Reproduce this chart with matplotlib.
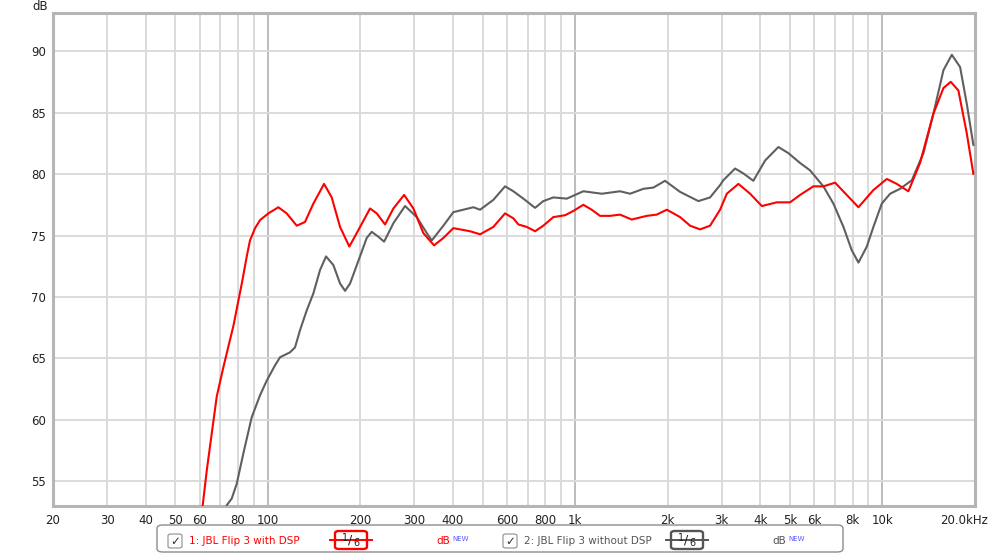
import matplotlib
matplotlib.use('Agg')

import matplotlib.pyplot as plt
from matplotlib.patches import FancyBboxPatch
from matplotlib.transforms import ScaledTranslation
import numpy as np

# frequency response readings (Hz, dB)
red_freq = [58, 61.4, 63.3, 65.7, 68.2, 71.7, 75.3, 77.2, 80.2, 82.3, 85.4, 87.5, 90.9, 94.3, 100.4,
            108.2, 115.2, 124.2, 132.1, 140.7, 152.4, 161.4, 171.8, 184.2, 194.7, 215.1, 226.2,
            240.7, 256.2, 277.6, 297.6, 320.6, 347.4, 372.6, 401.4, 455, 490.6, 541.8, 591.4,
            629.4, 653.6, 695.8, 740.6, 787.8, 849.4, 927.4, 986.6, 1063, 1132, 1205, 1299, 1400,
            1528, 1710, 1842, 1987, 2195, 2366, 2550, 2748, 2962, 3115, 3398, 3709, 4050, 4530,
            5004, 5394, 5958, 6422, 7010, 7650, 8352, 9342, 10330, 11130, 12140, 13250, 14640,
            15790, 16680, 17660, 18810, 19760]
red_db = [48.0, 53.06, 55.9, 58.9, 61.9, 64.3, 66.5, 67.6, 69.7, 71.1, 73.3, 74.6, 75.6, 76.25, 76.8,
          77.3, 76.8, 75.8, 76.1, 77.6, 79.2, 78.1, 75.7, 74.1, 75.2, 77.2, 76.8,
          75.9, 77.2, 78.3, 77.2, 75.2, 74.2, 74.8, 75.6, 75.35, 75.1, 75.7, 76.8,
          76.4, 75.9, 75.7, 75.35, 75.8, 76.5, 76.65, 77.0, 77.5, 77.1, 76.6, 76.6, 76.7,
          76.3, 76.6, 76.7, 77.1, 76.5, 75.8, 75.5, 75.8, 77.1, 78.4, 79.2, 78.4, 77.4, 77.7,
          77.7, 78.3, 79.0, 79.0, 79.3, 78.3, 77.3, 78.7, 79.6, 79.2, 78.6, 80.9, 84.9,
          87.0, 87.5, 86.8, 83.3, 80.0]

gray_freq = [70, 73.5, 76.3, 79.2, 83.3, 88.6, 94.3, 99.2, 105.6, 109.6, 118.1, 122.6, 127.3, 133.8,
             140.7, 147.9, 154.7, 163.4, 171.8, 178.4, 185.2, 199.5, 209.8, 217.8, 229.0, 239.0,
             256.2, 279.6, 305.2, 329.0, 341.6, 372.6, 401.4, 432.6, 466.4, 490.6, 541.8, 591.4,
             629.4, 678.4, 740.6, 787.8, 849.4, 939.4, 1063, 1221, 1400, 1509, 1668, 1797, 1961,
             2195, 2518, 2748, 2962, 3036, 3314, 3527, 3800, 4150, 4585, 4942, 5394, 5812, 6422,
             6922, 7464, 7944, 8352, 8892, 9342, 9948, 10590, 11410, 12460, 13590, 14640, 15790,
             16810, 17890, 18810, 19760]
gray_db = [51.0, 53.06, 53.6, 54.8, 57.3, 60.2, 62.0, 63.2, 64.45, 65.1, 65.5, 65.9, 67.3, 68.9,
           70.3, 72.2, 73.3, 72.6, 71.1, 70.5, 71.1, 73.3, 74.8, 75.3, 74.9, 74.5,
           76.0, 77.4, 76.5, 75.2, 74.6, 75.8, 76.9, 77.1, 77.3, 77.1, 77.9, 79.0,
           78.6, 78.0, 77.25, 77.8, 78.1, 78.0, 78.6, 78.4, 78.6, 78.4, 78.8, 78.9, 79.45,
           78.55, 77.8, 78.1, 79.1, 79.5, 80.45, 80.05, 79.45, 81.1, 82.2, 81.7, 80.9, 80.3, 79.0,
           77.6, 75.7, 73.8, 72.8, 74.1, 75.7, 77.6, 78.4, 78.8, 79.5, 81.7, 84.9, 88.45,
           89.7, 88.7, 85.7, 82.35]

tick_freqs = [20, 30, 40, 50, 60, 80, 100, 200, 300, 400, 600, 800, 1000, 2000, 3000, 4000,
              5000, 6000, 8000, 10000, 20000]
tick_labels = ['20', '30', '40', '50', '60', '80', '100', '200', '300', '400', '600', '800', '1k',
               '2k', '3k', '4k', '5k', '6k', '8k', '10k', '20.0kHz']
db_ticks = [55, 60, 65, 70, 75, 80, 85, 90]

W, H = 1000, 556
fig = plt.figure(figsize=(W / 100, H / 100), dpi=100)
ax = fig.add_axes([53 / W, 1 - 506 / H, (975 - 53) / W, (506 - 13) / H])

# grid
minor = [m * d for d in (10, 100, 1000) for m in range(2, 10)]
for f in minor:
    ax.axvline(f, color='#dadada', lw=1.4, zorder=0)
for f in (100, 1000, 10000):
    ax.axvline(f, color='#bcbcbc', lw=1.4, zorder=0)
for d in db_ticks:
    ax.axhline(d, color='#dadada', lw=1.4, zorder=0)

ax.plot(gray_freq, gray_db, color='#5f5f5f', lw=1.5, zorder=3,
        solid_capstyle='round', solid_joinstyle='round')
ax.plot(red_freq, red_db, color='#ff0000', lw=1.5, zorder=4,
        solid_capstyle='round', solid_joinstyle='round')

ax.set_xscale('log')
ax.set_xlim(20, 20000)
ax.set_ylim(53.0, 93.1)
ax.minorticks_off()
ax.set_xticks(tick_freqs)
ax.set_xticklabels(tick_labels)
ax.set_yticks(db_ticks)
ax.tick_params(length=0, labelsize=8.5, colors='#222222')
ax.tick_params(axis='x', pad=6)
ax.tick_params(axis='y', pad=5)
last = ax.get_xticklabels()[-1]
last.set_transform(last.get_transform() + ScaledTranslation(-8 / 72, 0, fig.dpi_scale_trans))
for s in ax.spines.values():
    s.set_color('#b5b5b5')
    s.set_linewidth(2.2)

fig.text(40 / W, 1 - 6 / H, 'dB', fontsize=8.5, color='#222222', ha='center', va='center')

# legend strip
def fx(px):
    return px / W

def fy(py):
    return 1 - py / H

box = FancyBboxPatch((fx(157), fy(552)), fx(843) - fx(157), fy(525) - fy(552),
                     boxstyle='round,pad=0,rounding_size=0.006', transform=fig.transFigure,
                     fc='white', ec='#8c8c8c', lw=1.0)
fig.patches.append(box)

entries = [
    (168, '1: JBL Flip 3 with DSP', '#ff0000', 330, 436),
    (503, '2: JBL Flip 3 without DSP', '#555555', 666, 772),
]
yc = 541
for cx, name, col, sx, dx in entries:
    cb = FancyBboxPatch((fx(cx), fy(548)), fx(14), 14 / H,
                        boxstyle='round,pad=0,rounding_size=0.003', transform=fig.transFigure,
                        fc='white', ec='#8c8c8c', lw=0.8)
    fig.patches.append(cb)
    fig.text(fx(cx + 7), fy(yc), '\u2713', fontsize=8.5, color='#333333', ha='center', va='center')
    fig.text(fx(cx + 21), fy(yc), name, fontsize=7.5, color=col, ha='left', va='center')
    fig.add_artist(plt.Line2D([fx(sx), fx(sx + 42)], [fy(yc - 1), fy(yc - 1)], color=col, lw=1.4,
                              transform=fig.transFigure))
    sb = FancyBboxPatch((fx(sx + 5), fy(549)), fx(32), 18 / H,
                        boxstyle='round,pad=0,rounding_size=0.004', transform=fig.transFigure,
                        fc='white', ec=col, lw=1.7)
    fig.patches.append(sb)
    fig.text(fx(sx + 15), fy(yc - 3), '1', fontsize=7, color='#222222', ha='center', va='center')
    fig.text(fx(sx + 20), fy(yc - 1), '/', fontsize=9, color='#222222', ha='center', va='center')
    fig.text(fx(sx + 26), fy(yc + 2), '6', fontsize=7, color='#222222', ha='center', va='center')
    fig.text(fx(dx), fy(yc), 'dB', fontsize=7.5, color=col, ha='left', va='center')
    fig.text(fx(dx + 16), fy(yc - 2), 'NEW', fontsize=5, color='#5a5aff', ha='left', va='center')

fig.savefig('out.png', dpi=100, facecolor='white')
